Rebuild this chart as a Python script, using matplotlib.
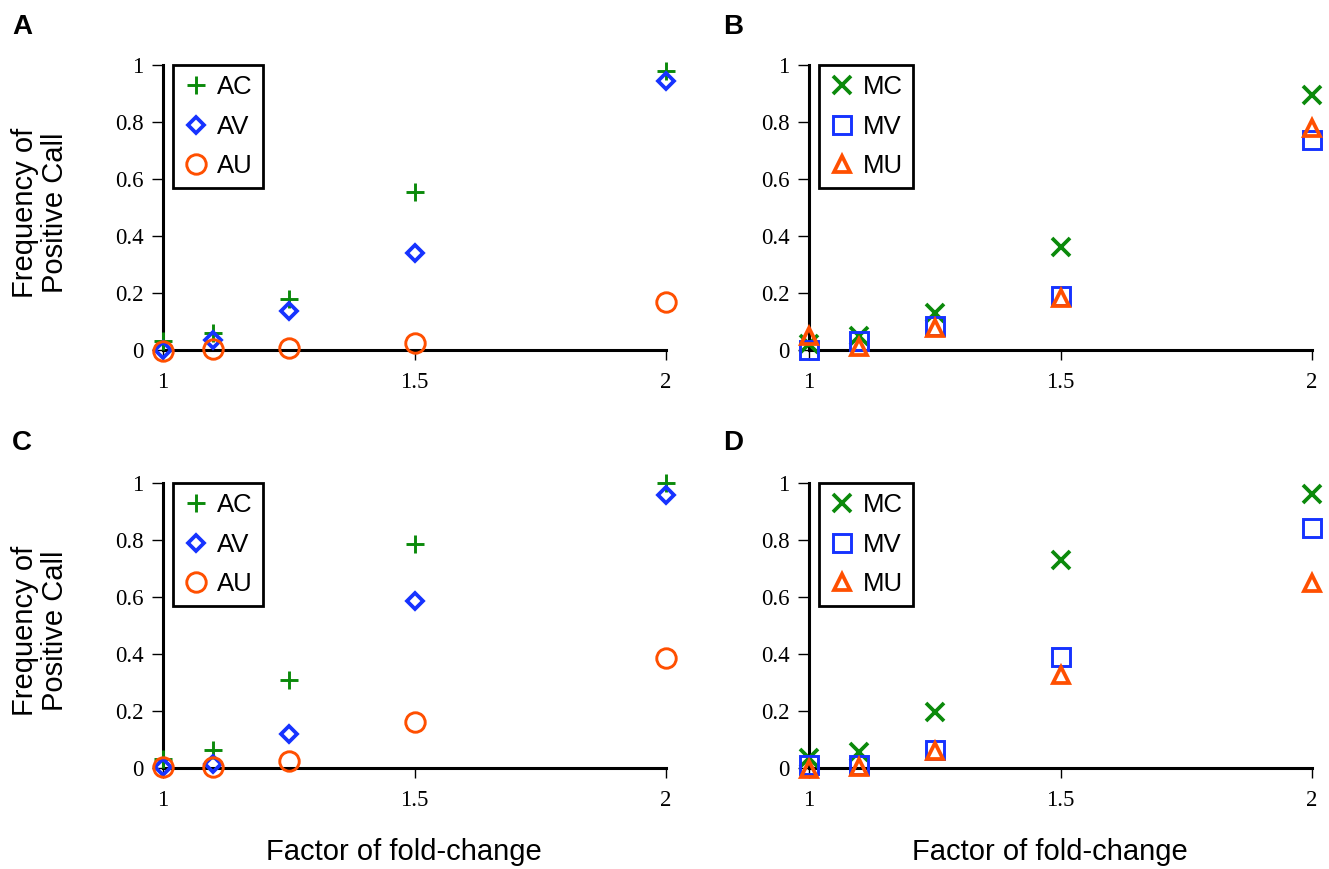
import matplotlib
matplotlib.use("Agg")
import matplotlib.pyplot as plt

# ---------------- data ----------------
fold = [1.0, 1.1, 1.25, 1.5, 2.0]

# Panel A
A_AC = [0.03, 0.06, 0.18, 0.555, 0.98]
A_AV = [0.00, 0.035, 0.137, 0.34, 0.945]
A_AU = [-0.005, 0.005, 0.007, 0.025, 0.168]

# Panel B
B_MC = [0.02, 0.05, 0.13, 0.36, 0.895]
B_MV = [0.00, 0.03, 0.085, 0.19, 0.737]
B_MU = [0.05, 0.01, 0.077, 0.183, 0.78]

# Panel C
C_AC = [0.03, 0.063, 0.31, 0.786, 1.0]
C_AV = [0.005, 0.015, 0.12, 0.585, 0.958]
C_AU = [0.005, 0.005, 0.025, 0.16, 0.386]

# Panel D
D_MC = [0.035, 0.057, 0.198, 0.73, 0.96]
D_MV = [0.01, 0.01, 0.063, 0.39, 0.842]
D_MU = [-0.005, 0.005, 0.06, 0.326, 0.65]

xticks = [1, 1.5, 2]
xticklabels = ["1", "1.5", "2"]
yticks = [0, 0.2, 0.4, 0.6, 0.8, 1]
yticklabels = ["0", "0.2", "0.4", "0.6", "0.8", "1"]

panel_letters = ["A", "B", "C", "D"]
a_labels = ["AC", "AV", "AU"]
m_labels = ["MC", "MV", "MU"]

# ---------------- style ----------------
GREEN = "#0b8a0b"
BLUE = "#1633ff"
ORANGE = "#ff4f00"

W, H = 1329, 869
fig = plt.figure(figsize=(W / 100, H / 100), dpi=100)

def fx(px):
    return px / W

def fy(py):
    return 1 - py / H

axw = (666 - 163) / W
axh = (350 - 65) / H
positions = [
    (fx(163), fy(350)),
    (fx(809), fy(350)),
    (fx(163), fy(768)),
    (fx(809), fy(768)),
]

a_styles = [
    dict(marker="+", ms=13, mew=2.1, color=GREEN),
    dict(marker="D", ms=8, mew=2.7, color=BLUE, mfc="none"),
    dict(marker="o", ms=14, mew=2.1, color=ORANGE, mfc="none"),
]
m_styles = [
    dict(marker="x", ms=13, mew=2.7, color=GREEN),
    dict(marker="s", ms=13, mew=2.1, color=BLUE, mfc="none"),
    dict(marker="^", ms=12, mew=2.7, color=ORANGE, mfc="none"),
]

panels = [
    ([A_AC, A_AV, A_AU], a_labels, a_styles),
    ([B_MC, B_MV, B_MU], m_labels, m_styles),
    ([C_AC, C_AV, C_AU], a_labels, a_styles),
    ([D_MC, D_MV, D_MU], m_labels, m_styles),
]

serif = "Liberation Serif"
sans = "Liberation Sans"

for i, (series, labels, styles) in enumerate(panels):
    ax = fig.add_axes([positions[i][0], positions[i][1], axw, axh])
    handles = []
    for vals, lab, st in zip(series, labels, styles):
        st = dict(st)
        color = st.pop("color")
        h, = ax.plot(fold, vals, linestyle="none", mec=color, label=lab,
                     clip_on=False, zorder=3, **st)
        if st.get("mfc") is None:
            h.set_markerfacecolor(color)
        handles.append(h)
    ax.set_xlim(1, 2)
    ax.set_ylim(0, 1)
    for s in ["top", "right"]:
        ax.spines[s].set_visible(False)
    for s in ["left", "bottom"]:
        ax.spines[s].set_linewidth(2.2)
        ax.spines[s].set_zorder(2)
    ax.set_xticks(xticks)
    ax.set_xticklabels(xticklabels, fontfamily=serif, fontsize=16.5)
    ax.set_yticks(yticks)
    ax.set_yticklabels(yticklabels, fontfamily=serif, fontsize=16.5)
    ax.tick_params(axis="y", direction="out", length=8, width=1.0, pad=6)
    ax.tick_params(axis="x", direction="out", length=7, width=1.0, pad=9)
    ax.patch.set_visible(False)

    leg = ax.legend(handles=handles, loc="upper left",
                    bbox_to_anchor=(10 / 503, 1.0), borderaxespad=0,
                    prop={"family": sans, "size": 18.5},
                    frameon=True, fancybox=False, framealpha=1,
                    edgecolor="black", handlelength=1.0, handletextpad=0.3,
                    borderpad=0.4, labelspacing=0.6, numpoints=1)
    leg.get_frame().set_linewidth(2.0)

    # panel letter
    lx = 22 if i % 2 == 0 else 733
    ly = 27 if i < 2 else 443
    fig.text(fx(lx), fy(ly), panel_letters[i], fontsize=20, fontweight="bold",
             fontfamily=sans, ha="center", va="center")

# axis labels
for ly in (213, 631):
    fig.text(fx(40), fy(ly), "Frequency of\nPositive Call", rotation=90,
             fontsize=21, fontfamily=sans, ha="center", va="center",
             linespacing=1.1)
for lx in (404, 1050):
    fig.text(fx(lx), fy(852), "Factor of fold-change", fontsize=21,
             fontfamily=sans, ha="center", va="center")

fig.savefig("out.png", dpi=100, facecolor="white")
